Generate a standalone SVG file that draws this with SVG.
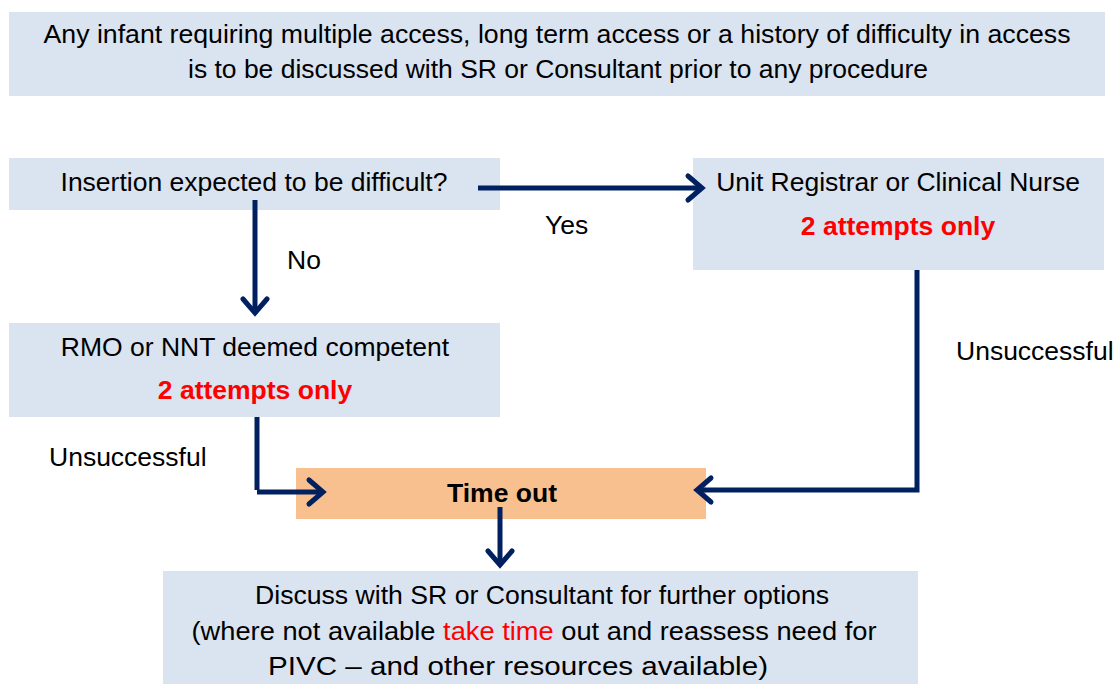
<svg xmlns="http://www.w3.org/2000/svg" width="1117" height="684" viewBox="0 0 1117 684">
<style>
.box{fill:#DAE3F0}
.t{font-family:"Liberation Sans",Arial,sans-serif;font-size:26.5px;fill:#000}
.red{fill:#FF0000;font-weight:bold}
.b{font-weight:bold}
.conn{fill:none;stroke:#002060;stroke-width:5}
</style>
<defs>
<marker id="arr" markerUnits="userSpaceOnUse" viewBox="-20 -16 24 32" refX="0" refY="0" markerWidth="24" markerHeight="32" orient="auto" overflow="visible">
<path d="M-14,-12 L0,0 L-14,12" fill="none" stroke="#002060" stroke-width="5" stroke-linecap="round" stroke-linejoin="miter"/>
</marker>
</defs>
<rect width="1117" height="684" fill="#fff"/>
<g id="note">
<rect class="box" x="9" y="12" width="1096" height="84"/>
<text class="t" x="557" y="43" text-anchor="middle" textLength="1027" lengthAdjust="spacingAndGlyphs">Any infant requiring multiple access, long term access or a history of difficulty in access</text>
<text class="t" x="558" y="78" text-anchor="middle" textLength="740" lengthAdjust="spacingAndGlyphs">is to be discussed with SR or Consultant prior to any procedure</text>
</g>
<g id="insertion">
<rect class="box" x="9" y="158" width="491" height="52"/>
<text class="t" x="254" y="191" text-anchor="middle">Insertion expected to be difficult?</text>
</g>
<g id="registrar">
<rect class="box" x="693" y="158" width="411" height="112"/>
<text class="t" x="898" y="191" text-anchor="middle">Unit Registrar or Clinical Nurse</text>
<text class="t red" x="898" y="235" text-anchor="middle">2 attempts only</text>
</g>
<g id="rmo">
<rect class="box" x="9" y="323" width="491" height="94"/>
<text class="t" x="255" y="356" text-anchor="middle">RMO or NNT deemed competent</text>
<text class="t red" x="255" y="399" text-anchor="middle">2 attempts only</text>
</g>
<g id="timeout">
<rect x="296" y="468" width="410" height="51" fill="#F8C08F"/>
<text class="t b" x="502" y="502" text-anchor="middle">Time out</text>
</g>
<g id="discuss">
<rect class="box" x="163" y="571" width="755" height="113"/>
<text class="t" x="542" y="604" text-anchor="middle" textLength="574" lengthAdjust="spacingAndGlyphs">Discuss with SR or Consultant for further options</text>
<text class="t" x="534" y="640" text-anchor="middle" textLength="685" lengthAdjust="spacingAndGlyphs">(where not available <tspan fill="#FF0000">take time</tspan> out and reassess need for</text>
<text class="t" x="518" y="675" text-anchor="middle" textLength="500" lengthAdjust="spacingAndGlyphs">PIVC – and other resources available)</text>
</g>
<g id="connectors">
<path class="conn" d="M478,188 H702" marker-end="url(#arr)"/>
<path class="conn" d="M255,200 V313" marker-end="url(#arr)"/>
<path class="conn" d="M257,417 V490"/>
<path class="conn" d="M257,492 H323" marker-end="url(#arr)"/>
<path class="conn" d="M917,270 V490 H697" marker-end="url(#arr)"/>
<path class="conn" d="M500,507 V565" marker-end="url(#arr)"/>
</g>
<g id="labels">
<text class="t" x="545" y="234">Yes</text>
<text class="t" x="287" y="269">No</text>
<text class="t" x="49" y="466">Unsuccessful</text>
<text class="t" x="956" y="360">Unsuccessful</text>
</g>
</svg>
